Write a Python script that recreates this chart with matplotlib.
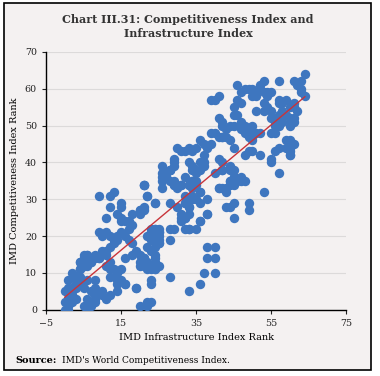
import numpy as np
import matplotlib
matplotlib.use('Agg')
import matplotlib.pyplot as plt
from matplotlib.patches import Rectangle

# (IMD Infrastructure Index rank, IMD Competitiveness Index rank), read by region
lower_left = [
    (0, 0), (0, 2), (1, 0), (1, 1), (1, 3), (2, 2), (2, 4), (0, 5), (1, 6), (3, 3),
    (2, 6), (3, 6), (5, 6), (3, 8), (4, 9), (6, 8), (8, 8), (2, 10), (3, 9), (1, 8),
    (3, 7), (4, 7), (2, 5), (6, 1), (5, 1), (7, 2), (6, 3), (8, 4), (7, 5), (8, 6),
    (8, 3), (8, 2), (7, 1), (6, 0), (10, 4), (12, 4), (11, 3), (10, 5), (14, 7), (16, 7),
    (19, 6), (4, 11), (5, 12), (4, 13), (6, 13), (5, 14), (6, 15), (8, 14), (9, 14), (7, 13),
    (12, 13), (11, 12), (12, 11), (13, 11), (14, 10), (12, 9), (16, 14), (15, 11), (15, 8), (14, 8),
    (16, 7), (14, 5),
]
left_mid = [
    (9, 31), (12, 31), (13, 32), (15, 29), (15, 28), (12, 28), (21, 34), (22, 31), (24, 29), (20, 27),
    (21, 28), (18, 26), (14, 26), (15, 25), (15, 24), (11, 25), (16, 24), (17, 24), (18, 23), (17, 22),
    (25, 22), (23, 21), (24, 22), (25, 21), (24, 20), (25, 19), (24, 17), (9, 21), (10, 20), (11, 21),
    (12, 20), (13, 19), (14, 20), (15, 21), (16, 20), (17, 19), (18, 18), (19, 16), (18, 15), (14, 19),
    (13, 18), (12, 17), (11, 16), (10, 16), (11, 15), (9, 14), (8, 15), (7, 13), (6, 12), (5, 12),
    (4, 11), (6, 15), (5, 15), (4, 13), (20, 15), (21, 14), (20, 13), (22, 13), (23, 12), (24, 12),
    (24, 11), (23, 11), (22, 11),
]
mid_low = [
    (20, 1), (22, 2), (23, 2), (22, 1), (19, 6), (23, 8), (23, 7), (28, 9), (33, 5), (36, 7),
    (37, 10), (40, 10), (38, 17), (40, 17), (38, 14), (40, 14), (21, 14), (20, 12), (22, 17), (23, 16),
    (24, 15), (24, 14), (24, 13), (25, 12), (24, 11), (23, 12), (21, 12), (22, 20), (23, 22), (24, 22),
    (25, 21), (25, 20), (25, 18), (24, 19), (23, 19), (28, 22),
]
mid = [
    (21, 34), (22, 31), (24, 29), (21, 27), (20, 27), (20, 26), (26, 35), (26, 33), (29, 34), (30, 33),
    (31, 34), (33, 34), (34, 35), (35, 34), (36, 32), (32, 31), (33, 30), (34, 30), (32, 29), (28, 29),
    (30, 28), (31, 26), (31, 25), (32, 25), (33, 22), (38, 30), (38, 26), (36, 24), (41, 33), (26, 37),
    (27, 36), (28, 38), (29, 35), (29, 34), (31, 34), (32, 36), (33, 34), (34, 33), (35, 35), (35, 30),
    (32, 29), (33, 26), (35, 22), (32, 22), (31, 24), (32, 25), (29, 22), (28, 19), (25, 18), (34, 31),
    (36, 32), (34, 30), (33, 28), (33, 28), (38, 26), (36, 24), (33, 22), (36, 29),
]
upper_mid = [
    (39, 57), (40, 57), (41, 58), (41, 52), (42, 50), (39, 48), (40, 48), (41, 47), (42, 47), (36, 46),
    (37, 45), (38, 44), (39, 45), (30, 44), (32, 43), (33, 44), (34, 43), (35, 44), (31, 43), (29, 41),
    (29, 40), (26, 39), (28, 38), (29, 39), (27, 37), (28, 38), (27, 36), (28, 35), (26, 36), (33, 40),
    (34, 39), (36, 40), (37, 42), (37, 40), (35, 38), (37, 39), (34, 38), (36, 38), (35, 37), (34, 35),
    (40, 37), (42, 38), (42, 40), (44, 39), (45, 38), (45, 36), (47, 36), (41, 41), (21, 34),
]
right_mid = [
    (53, 32), (47, 35), (45, 34), (44, 35), (44, 34), (43, 33), (42, 33), (41, 33), (43, 32), (49, 29),
    (49, 27), (45, 25), (45, 29), (44, 28), (43, 28), (45, 36), (44, 35), (46, 35), (48, 35), (44, 38),
    (42, 38),
]
upper_right = [
    (64, 64), (63, 62), (61, 62), (62, 61), (57, 62), (53, 62), (52, 61), (52, 60), (53, 59), (54, 59),
    (54, 58), (55, 59), (46, 61), (47, 59), (48, 60), (49, 60), (50, 60), (51, 59), (50, 58), (51, 58),
    (46, 57), (47, 56), (45, 55), (45, 53), (46, 53), (51, 54), (53, 54), (53, 56), (54, 55), (55, 54),
    (55, 52), (56, 52), (57, 53), (58, 56), (59, 57), (60, 55), (61, 56), (61, 55), (62, 54), (63, 59),
    (63, 60), (64, 58), (57, 57), (57, 56), (58, 54), (59, 53), (60, 52), (60, 51), (61, 51), (47, 51),
    (48, 50), (48, 48), (49, 49), (50, 50), (51, 48), (50, 47), (52, 48), (50, 46), (49, 47), (47, 49),
    (44, 50), (45, 50), (42, 51), (43, 49), (43, 47), (44, 46), (42, 47), (56, 51), (56, 50), (57, 50),
    (58, 51), (60, 50), (61, 52), (56, 48), (55, 48), (45, 44), (48, 42), (49, 43), (50, 43), (52, 42),
    (55, 41), (56, 43), (57, 44), (55, 40), (60, 46), (60, 44), (60, 43), (60, 42), (61, 45), (57, 37),
    (60, 42), (59, 46), (59, 44),
]

groups = [lower_left, left_mid, mid_low, mid, upper_mid, right_mid, upper_right]
pts = np.array([p for g in groups for p in g], dtype=float)
x, y = pts[:, 0], pts[:, 1]

bg = '#f4f1f1'
fig = plt.figure(figsize=(3.8, 3.76), dpi=100, facecolor='white')
fig.patches.append(Rectangle((4 / 380, 1 - 370 / 376), 367 / 380, 367 / 376,
                             transform=fig.transFigure, facecolor=bg,
                             edgecolor='black', linewidth=1.2, zorder=-5))

ax = fig.add_axes([0.121, 0.176, 0.79, 0.686])
ax.set_zorder(2)
ax.set_facecolor(bg)
ax.scatter(x, y, s=46, color='#3e76bf', zorder=3, linewidths=0)

# linear trend line
m, c = np.polyfit(x, y, 1)
xl = np.array([0, x.max()])
ax.plot(xl, m * xl + c, color='#c8343a', linewidth=1, zorder=4)

ax.set_xlim(-5, 75)
ax.set_ylim(0, 70)
ax.set_xticks([-5, 15, 35, 55, 75])
ax.set_yticks(range(0, 71, 10))
ax.grid(axis='y', color='#dcdada', linewidth=0.8)
ax.set_axisbelow(True)
for s in ['top', 'right']:
    ax.spines[s].set_visible(False)
for s in ['left', 'bottom']:
    ax.spines[s].set_linewidth(1)
ax.tick_params(labelsize=6.8, length=3, width=0.8, colors='#222222')
for lab in ax.get_xticklabels() + ax.get_yticklabels():
    lab.set_family('DejaVu Serif')

ax.set_xlabel('IMD Infrastructure Index Rank', family='DejaVu Serif', fontsize=7)
ax.set_ylabel('IMD Competitiveness Index Rank', family='DejaVu Serif', fontsize=7)

fig.text(0.495, 0.93, 'Chart III.31: Competitiveness Index and\nInfrastructure Index',
         ha='center', va='center', family='DejaVu Serif', fontweight='bold',
         fontsize=8, color='#333333', linespacing=1.3)
fig.text(0.04, 0.035, 'Source:', family='DejaVu Serif', fontweight='bold', fontsize=7)
fig.text(0.162, 0.035, "IMD's World Competitiveness Index.", family='DejaVu Serif', fontsize=6.5)

fig.savefig('out.png', dpi=100, facecolor='white')
